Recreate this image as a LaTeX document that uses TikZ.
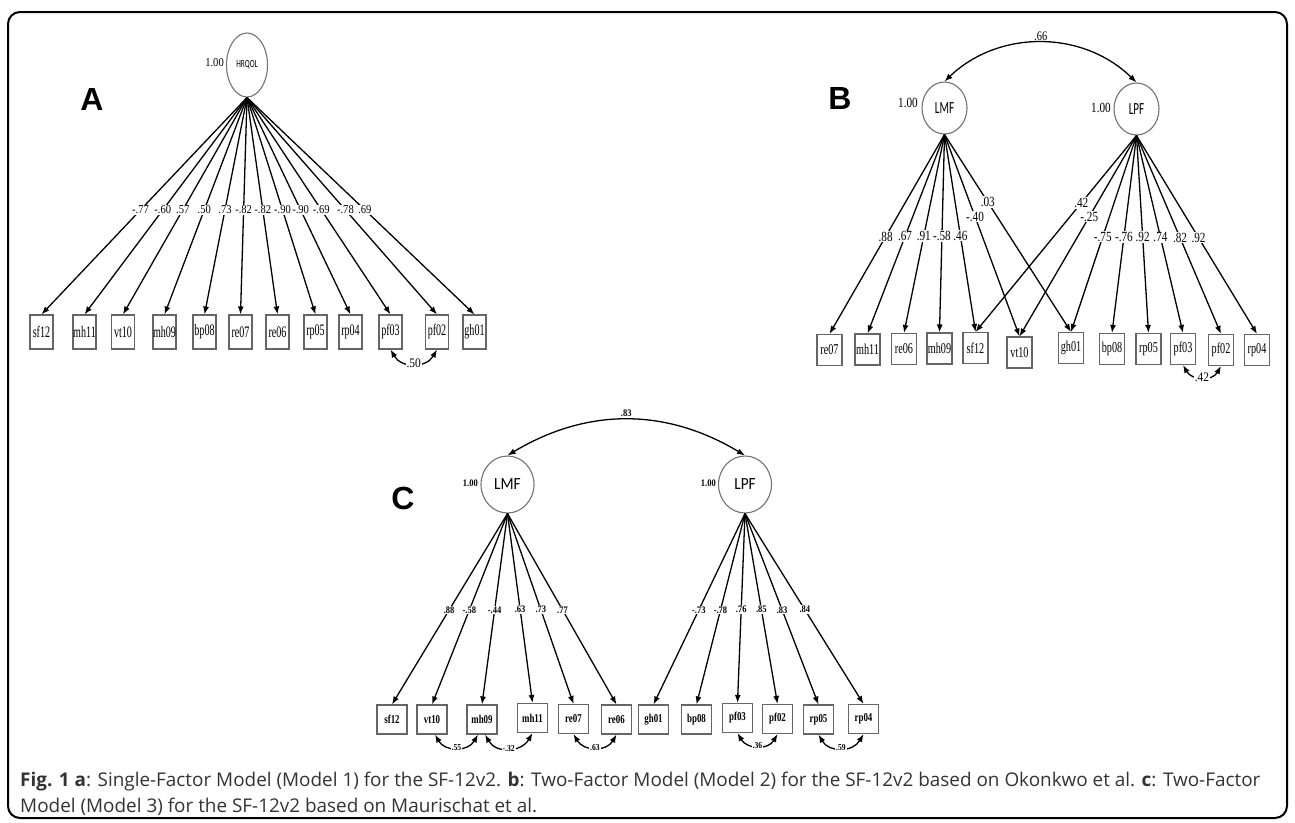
\documentclass[tikz,border=0pt]{standalone}
\usepackage{fontspec}
\usepackage{graphicx}
\usetikzlibrary{shapes.geometric,arrows.meta}
\setmainfont{Liberation Serif}
\newfontfamily\capfont{Open Sans}
\newfontfamily\tagfont{Liberation Sans}
\newfontfamily\boxAfont[FakeStretch=0.63]{Liberation Serif}
\newfontfamily\labAfont[FakeStretch=0.88]{Liberation Serif}
\newfontfamily\boxBfont[FakeStretch=0.68]{Liberation Serif}
\newfontfamily\labBfont[FakeStretch=0.8]{Liberation Serif}
\newfontfamily\boxCfont[FakeStretch=0.74]{Liberation Serif}
\newfontfamily\labCfont[FakeStretch=0.85]{Liberation Serif}
\newfontfamily\latAfont[FakeStretch=0.67]{Carlito}
\newfontfamily\latBfont[FakeStretch=0.65]{Carlito}
\newfontfamily\latCfont[FakeStretch=0.9]{Carlito}
\newcommand\fs[1]{\fontsize{#1}{#1}\selectfont}

\tikzset{
  lat/.style={ellipse, draw=black!55, line width=1.1pt, inner sep=0pt},
  obs/.style={rectangle, draw=black!60, line width=1.1pt, inner sep=0pt},
  obsA/.style={obs, minimum width=23pt, minimum height=34pt, font=\boxAfont\fs{16}},
  obsB/.style={obs, minimum width=25pt, minimum height=31pt, font=\boxBfont\fs{15}},
  obsC/.style={obs, minimum width=30pt, minimum height=29pt, font=\boxCfont\bfseries\fs{12}},
  load/.style={-{Latex[length=8pt,width=6pt]}, line width=1.3pt},
  cov/.style={{Latex[length=8pt,width=6pt]}-{Latex[length=8pt,width=6pt]}, line width=1.3pt},
  labA/.style={fill=white, inner sep=1pt, font=\labAfont\fs{12}},
  labB/.style={fill=white, inner sep=1pt, font=\labBfont\fs{14}},
  labC/.style={fill=white, inner sep=1pt, font=\labCfont\bfseries\fs{10}},
  varA/.style={anchor=east, inner sep=0pt, font=\labAfont\fs{12}},
  varB/.style={anchor=east, inner sep=0pt, font=\labBfont\fs{14}},
  varC/.style={anchor=east, inner sep=0pt, font=\labCfont\bfseries\fs{10}},
  corA/.style={fill=white, inner sep=1pt, font=\labAfont\fs{13}},
  corC/.style={fill=white, inner sep=1pt, font=\labCfont\bfseries\fs{9}},
  panel/.style={font=\tagfont\bfseries\fs{32}, inner sep=0pt},
}

\begin{document}
\begin{tikzpicture}[x=1pt, y=-1pt]
\useasboundingbox (0,0) rectangle (1295,822);
\draw[line width=2pt, rounded corners=12pt] (8,12) rectangle (1287,818);

% ---------------- Panel A: single factor ----------------
\node[panel] (tagA) at (92,99) {A};
\node[lat, minimum width=41pt, minimum height=64pt, font=\latAfont\fs{11}] (hrqol) at (247,65) {HRQOL};
\node[varA] (vA) at (224,63) {1.00};

\foreach \n/\x in {sf12/41.5, mh11/84.5, vt10/123, mh09/164.5, bp08/204.5, re07/240.5,
                   re06/277.5, rp05/315.5, rp04/350.5, pf03/390.5, pf02/437, gh01/474.5}
  \node[obsA] (\n A) at (\x,332) {\n};

\foreach \n/\v in {sf12/-.77, mh11/-.60, vt10/.57, mh09/.50, bp08/.73, re07/-.82,
                   re06/-.82, rp05/-.90, rp04/-.90, pf03/-.69, pf02/-.78, gh01/.69}
  \draw[load] (hrqol.south) -- node[labA, pos=0.518] {\v} (\n A.north);

\draw[cov] (pf03A.south) to[out=-60, in=-120, looseness=1.2] node[corA, pos=0.5] {.50} (pf02A.south);

% ---------------- Panel B: two factors (Okonkwo) ----------------
\node[panel] (tagB) at (840,98) {B};
\node[lat, minimum width=45pt, minimum height=52pt, font=\latBfont\fs{17}] (lmfB) at (944.5,108) {LMF};
\node[lat, minimum width=45pt, minimum height=52pt, font=\latBfont\fs{17}] (lpfB) at (1136.5,109) {LPF};
\node[varB] (vB1) at (918,103) {1.00};
\node[varB] (vB2) at (1111,108) {1.00};
\draw[cov] (lmfB.north) to[bend left=44] node[above=0pt, font=\labBfont\fs{13}, inner sep=1pt] {.66} (lpfB.north);

\foreach \n/\x/\y in {re07/829.5/350, mh11/867.5/349.5, re06/904/349, mh09/939.5/348.5,
                      sf12/975.5/348, vt10/1019.5/352.5, gh01/1071/348, bp08/1112/349,
                      rp05/1148.5/349, pf03/1183/349, pf02/1221/350, rp04/1257/350}
  \node[obsB] (\n B) at (\x,\y) {\n};

\foreach \n/\v in {re07/.88, mh11/.67, re06/.91, mh09/-.58, sf12/.46}
  \draw[load] (lmfB.south) -- node[labB, pos=0.512] {\v} (\n B.north);
\draw[load] (lmfB.south) -- node[labB, pos=0.407] {-.40} (vt10B.north);
\draw[load] (lmfB.south) -- node[labB, pos=0.342] {.03} (gh01B.north);
\draw[load] (lpfB.south) -- node[labB, pos=0.343] {.42} (sf12B.north);
\draw[load] (lpfB.south) -- node[labB, pos=0.404] {-.25} (vt10B.north);
\foreach \n/\v in {gh01/-.75, bp08/-.76, rp05/.92, pf03/.74, pf02/.82, rp04/.92}
  \draw[load] (lpfB.south) -- node[labB, pos=0.515] {\v} (\n B.north);

\draw[cov] (pf03B.south) to[out=-60, in=-120, looseness=1.2] node[corA, pos=0.5] {.42} (pf02B.south);

% ---------------- Panel C: two factors (Maurischat) ----------------
\node[panel] (tagC) at (403,498) {C};
\node[lat, minimum width=53pt, minimum height=57pt, font=\latCfont\fs{17}] (lmfC) at (507.5,484.5) {LMF};
\node[lat, minimum width=53pt, minimum height=57pt, font=\latCfont\fs{17}] (lpfC) at (745,484.5) {LPF};
\node[varC] (vC1) at (478,483) {1.00};
\node[varC] (vC2) at (716,483) {1.00};
\draw[cov] (lmfC.north) to[bend left=31] node[above=1pt, font=\labCfont\bfseries\fs{10}, inner sep=1pt] {.83} (lpfC.north);

\foreach \n/\x/\y in {sf12/392/719.5, vt10/432/719.5, mh09/482/719.5, mh11/532.5/718,
                      re07/573.5/719, re06/616.5/719.5, gh01/653.5/719.5, bp08/696.5/719.5,
                      pf03/737.5/718, pf02/777.5/719, rp05/818.5/719.5, rp04/863.5/719}
  \node[obsC] (\n C) at (\x,\y) {\n};

\foreach \n/\v in {sf12/.88, vt10/-.58, mh09/-.44, mh11/.63, re07/.73, re06/.77}
  \draw[load] (lmfC.south) -- node[labC, pos=0.505] {\v} (\n C.north);
\foreach \n/\v in {gh01/-.73, bp08/-.78, pf03/.76, pf02/.85, rp05/.83, rp04/.84}
  \draw[load] (lpfC.south) -- node[labC, pos=0.505] {\v} (\n C.north);

\draw[cov] ([xshift=3pt]vt10C.south) to[out=-60, in=-120, looseness=1.2] node[corC] {.55} ([xshift=-4pt]mh09C.south);
\draw[cov] ([xshift=3pt]mh09C.south) to[out=-60, in=-120, looseness=1.2] node[corC] {-.32} (mh11C.south);
\draw[cov] (re07C.south) to[out=-60, in=-120, looseness=1.2] node[corC] {.63} (re06C.south);
\draw[cov] (pf03C.south) to[out=-60, in=-120, looseness=1.2] node[corC] {.36} (pf02C.south);
\draw[cov] (rp05C.south) to[out=-60, in=-120, looseness=1.2] node[corC] {.59} (rp04C.south);

% ---------------- Caption ----------------
\node[anchor=north west, align=left, inner sep=0pt, text=black!80,
      font=\capfont\fontsize{18.9}{26}\selectfont] (caption) at (20,772)
  {\textbf{Fig. 1 a}: Single-Factor Model (Model 1) for the SF-12v2. \textbf{b}: Two-Factor Model (Model 2) for the SF-12v2 based on Okonkwo et al. \textbf{c}: Two-Factor\\
   Model (Model 3) for the SF-12v2 based on Maurischat et al.};
\end{tikzpicture}
\end{document}
